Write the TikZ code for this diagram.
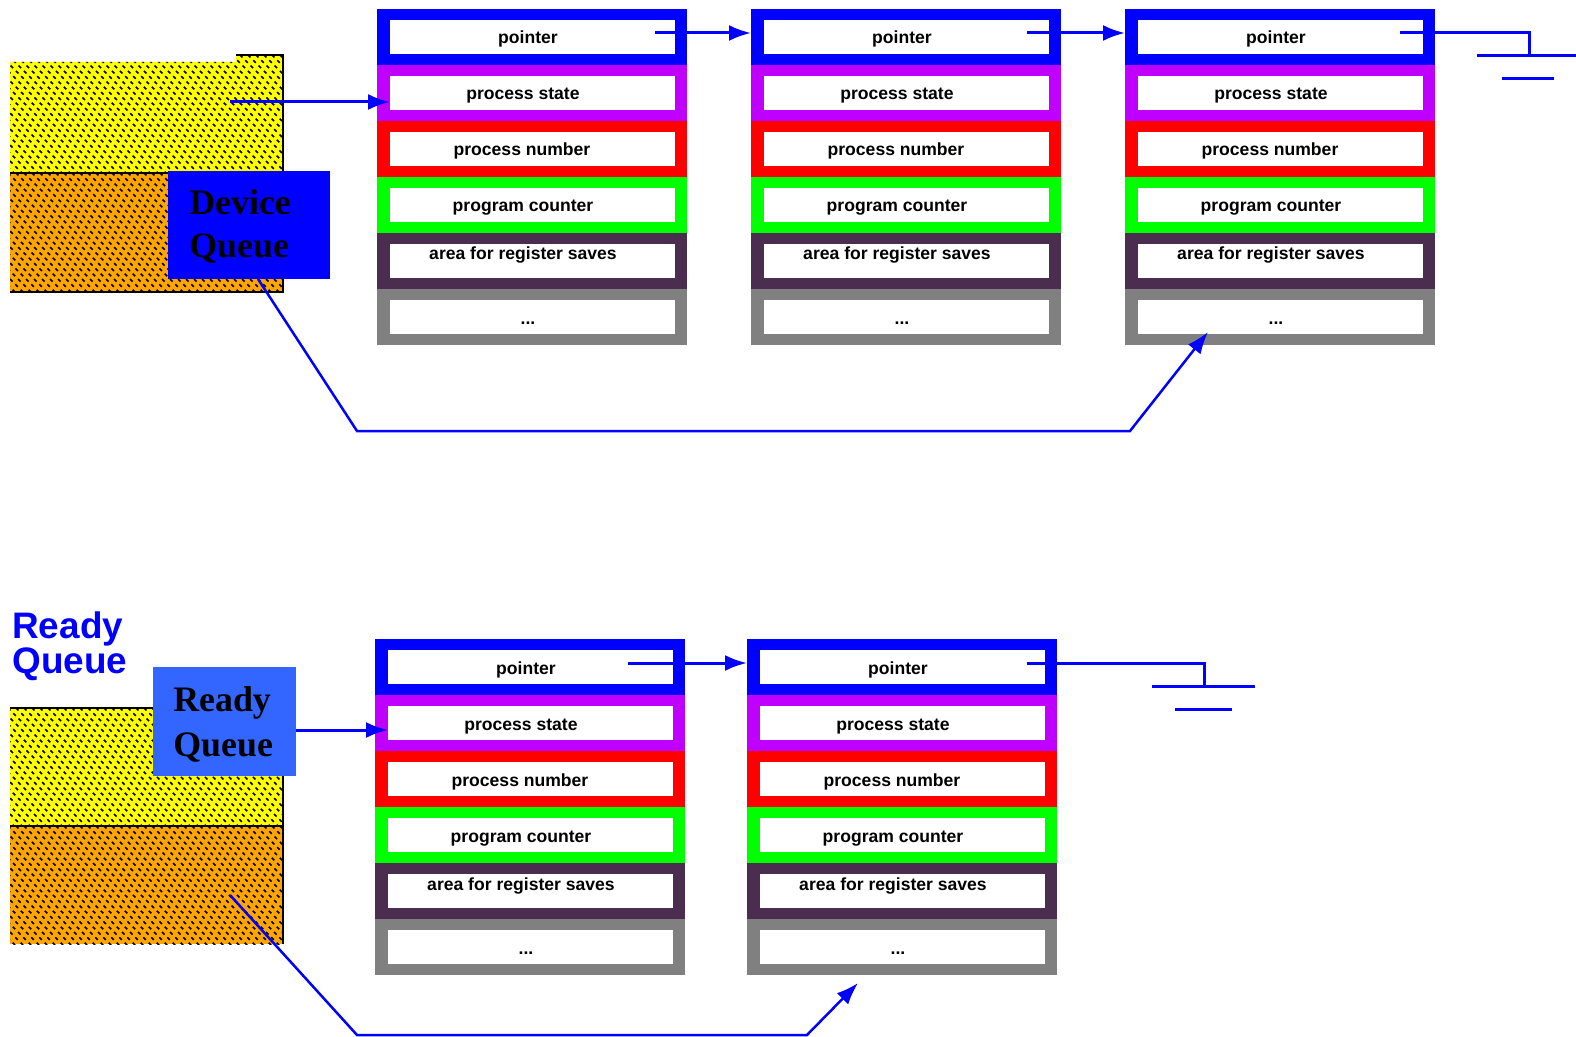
\documentclass[tikz,border=0pt]{standalone}
\usepackage{fontspec}
\setmainfont{Liberation Sans}
\newfontfamily\qfont{Liberation Serif}
\usetikzlibrary{arrows.meta}

\definecolor{pblue}{HTML}{0000FF}
\definecolor{ppurple}{HTML}{BF00FF}
\definecolor{pred}{HTML}{FF0000}
\definecolor{pgreen}{HTML}{00FF00}
\definecolor{pdark}{HTML}{4B2D4F}
\definecolor{pgray}{HTML}{808080}
\definecolor{qyellow}{HTML}{FFFF00}
\definecolor{qorange}{HTML}{FFA500}
\definecolor{rqblue}{HTML}{3366FF}

\tikzset{
  rowbox/.style={draw=none, minimum width=6.2cm, minimum height=1.12cm, inner sep=0pt, outer sep=0pt},
  innerbox/.style={fill=white, draw=none, minimum width=5.7cm, minimum height=0.68cm, inner sep=0pt, outer sep=0pt},
  pcbtext/.style={font=\bfseries\fontsize{10}{12}\selectfont, anchor=base, inner sep=0pt},
  conn/.style={draw=pblue, line width=0.06cm},
  longconn/.style={draw=pblue, line width=0.05cm, line join=miter},
  tip/.style={-{Latex[length=0.44cm,width=0.32cm]}},
  hatchline/.style={line width=0.035cm, dash pattern=on 0.07cm off 0.08cm, black},
  blkborder/.style={line width=0.05cm, black},
  qbox/.style={draw=none, inner sep=0pt, outer sep=0pt},
  qtext/.style={font=\qfont\bfseries\fontsize{20.4}{25}\selectfont, anchor=base west, inner sep=0pt},
  lbltext/.style={font=\bfseries\fontsize{21}{22}\selectfont, text=pblue, anchor=base west, inner sep=0pt},
  gndline/.style={draw=pblue, line width=0.06cm}
}

\newcommand\pcbrow[4]{%
  \node[rowbox, fill=#4] (#1) at (#2+155,#3+28) {};
  \node[innerbox] (#1-in) at (#2+155.5,#3+28) {};
}
\newcommand\pcb[3]{%
  \pcbrow{#1-ptr}{#2}{#3}{pblue}
  \pcbrow{#1-st}{#2}{#3+56}{ppurple}
  \pcbrow{#1-num}{#2}{#3+112}{pred}
  \pcbrow{#1-pc}{#2}{#3+168}{pgreen}
  \pcbrow{#1-reg}{#2}{#3+224}{pdark}
  \pcbrow{#1-dots}{#2}{#3+280}{pgray}
  \node[pcbtext] (#1-ptr-t) at (#2+151,#3+35) {pointer};
  \node[pcbtext] (#1-st-t) at (#2+146,#3+91) {process state};
  \node[pcbtext] (#1-num-t) at (#2+145,#3+147) {process number};
  \node[pcbtext] (#1-pc-t) at (#2+146,#3+203) {program counter};
  \node[pcbtext] (#1-reg-t) at (#2+146,#3+251) {area for register saves};
  \node[pcbtext] (#1-dots-t) at (#2+151,#3+315) {...};
}
\newcommand\hatchrect[5]{%
  \fill[#5] (#1,#2) rectangle (#3,#4);
  \begin{scope}
    \clip (#1,#2) rectangle (#3,#4);
    \foreach \i in {-130,-122,...,290} \draw[hatchline] (#1+\i,#2) -- ++(130,130);
  \end{scope}
}

\begin{document}
\begin{tikzpicture}[x=0.02cm,y=-0.02cm]
\fill[white] (0,0) rectangle (1576,1037);
\useasboundingbox (0,0) rectangle (1576,1037);

% ---------- device queue block ----------
\fill[qyellow] (10,62) -- (236,62) -- (236,55) -- (283,55) -- (283,173) -- (10,173) -- cycle;
\begin{scope}
  \clip (10,62) -- (236,62) -- (236,55) -- (283,55) -- (283,173) -- (10,173) -- cycle;
  \foreach \i in {-130,-122,...,290} \draw[hatchline] (10+\i,55) -- ++(130,130);
\end{scope}
\hatchrect{10}{173}{283}{292}{qorange}
\draw[blkborder] (236,55) -- (283,55) -- (283,292) -- (10,292);
\draw[blkborder] (10,173) -- (283,173);

% ---------- ready queue block ----------
\hatchrect{10}{708}{283}{826}{qyellow}
\hatchrect{10}{826}{283}{944}{qorange}
\draw[blkborder] (10,708) -- (283,708) -- (283,944);
\draw[blkborder] (10,826) -- (283,826);

% ---------- PCBs ----------
\pcb{p1}{377}{9}
\pcb{p2}{751}{9}
\pcb{p3}{1125}{9}
\pcb{q1}{375}{639}
\pcb{q2}{747}{639}

% ---------- long arrows ----------
\coordinate (lt0) at (258,279);
\coordinate (lt1) at (357,431);
\coordinate (lt2) at (1130,431);
\coordinate (lt3) at (1208,332);
\draw[longconn,tip] (lt0) -- (lt1) -- (lt2) -- (lt3);

\coordinate (lb0) at (230,895);
\coordinate (lb1) at (357,1035);
\coordinate (lb2) at (807,1035);
\coordinate (lb3) at (858,983);
\draw[longconn,tip] (lb0) -- (lb1) -- (lb2) -- (lb3);

% ---------- queue boxes ----------
\node[qbox, fill=pblue, minimum width=3.24cm, minimum height=2.16cm] (devq) at (249,225) {};
\node[qtext] (devq-t1) at (189,215) {Device};
\node[qtext] (devq-t2) at (189,258) {Queue};

\node[qbox, fill=rqblue, minimum width=2.86cm, minimum height=2.18cm] (rq) at (224.5,721.5) {};
\node[qtext] (rq-t1) at (173,711) {Ready};
\node[qtext] (rq-t2) at (173,756) {Queue};

\node[lbltext] (lbl1) at (12,638) {Ready};
\node[lbltext] (lbl2) at (12,673) {Queue};

% ---------- head arrows ----------
\coordinate (dsrc) at (230,102);
\draw[conn,tip] (dsrc) -- (dsrc -| p1-st-in.west);
\coordinate (rsrc) at (296,730);
\draw[conn,tip] (rsrc) -- (rsrc -| q1-st-in.west);

% ---------- pointer arrows ----------
\coordinate (pa1) at (655,33);
\draw[conn,tip] (pa1) -- (pa1 -| p2-ptr.west);
\coordinate (pa2) at (1027,33);
\draw[conn,tip] (pa2) -- (pa2 -| p3-ptr.west);
\coordinate (pa3) at (1400,33);
\coordinate (g1) at (1529,56);
\draw[conn] (pa3) -- (pa3 -| g1) -- (g1);
\draw[gndline] (1477,56) -- (1576,56);
\draw[gndline] (1502,79) -- (1554,79);

\coordinate (qa1) at (628,663);
\draw[conn,tip] (qa1) -- (qa1 -| q2-ptr.west);
\coordinate (qa2) at (1027,663);
\coordinate (g2) at (1204,686);
\draw[conn] (qa2) -- (qa2 -| g2) -- (g2);
\draw[gndline] (1152,686) -- (1255,686);
\draw[gndline] (1175,709) -- (1232,709);
\end{tikzpicture}
\end{document}
